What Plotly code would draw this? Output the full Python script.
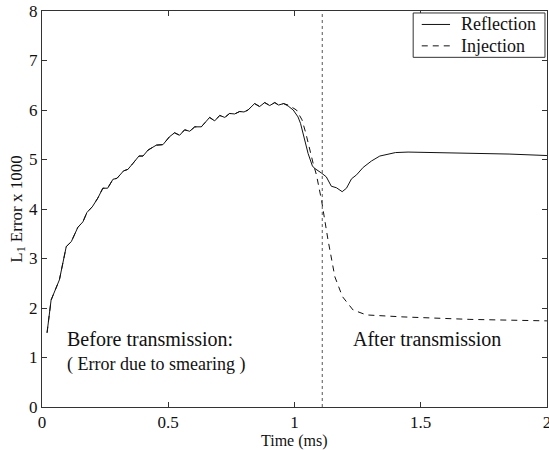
import plotly.graph_objects as go

# L1 error (x1000) versus time for the two boundary treatments
refl_t = [0.02, 0.036, 0.069, 0.096, 0.116, 0.142, 0.162, 0.178, 0.200, 0.221,
          0.241, 0.260, 0.281, 0.297, 0.323, 0.340, 0.360, 0.384, 0.400, 0.420,
          0.453, 0.479, 0.505, 0.525, 0.545, 0.565, 0.585, 0.605, 0.631, 0.664,
          0.684, 0.704, 0.724, 0.743, 0.763, 0.783, 0.800, 0.816, 0.842, 0.862,
          0.882, 0.902, 0.922, 0.937, 0.957, 0.975, 0.995, 1.014, 1.024, 1.034,
          1.054, 1.071, 1.080, 1.106, 1.126, 1.146, 1.166, 1.189, 1.206, 1.226,
          1.246, 1.272, 1.305, 1.338, 1.370, 1.400, 1.450, 1.560, 1.700, 1.850,
          2.000]
refl_v = [1.50, 2.16, 2.57, 3.24, 3.34, 3.63, 3.74, 3.93, 4.05, 4.22,
          4.42, 4.42, 4.60, 4.62, 4.77, 4.80, 4.92, 5.07, 5.07, 5.19,
          5.29, 5.30, 5.46, 5.54, 5.49, 5.60, 5.57, 5.66, 5.66, 5.85,
          5.78, 5.89, 5.85, 5.93, 5.92, 5.97, 5.96, 6.00, 6.13, 6.07,
          6.15, 6.09, 6.15, 6.10, 6.13, 6.08, 6.00, 5.86, 5.73, 5.53,
          5.12, 4.87, 4.82, 4.73, 4.65, 4.46, 4.43, 4.35, 4.42, 4.61,
          4.69, 4.84, 4.97, 5.07, 5.11, 5.14, 5.15, 5.14, 5.13, 5.11,
          5.08]

inj_t = [0.02, 0.036, 0.069, 0.096, 0.116, 0.142, 0.162, 0.178, 0.200, 0.221,
         0.241, 0.260, 0.281, 0.297, 0.323, 0.340, 0.360, 0.384, 0.400, 0.420,
         0.453, 0.479, 0.505, 0.525, 0.545, 0.565, 0.585, 0.605, 0.631, 0.664,
         0.684, 0.704, 0.724, 0.743, 0.763, 0.783, 0.800, 0.816, 0.842, 0.862,
         0.882, 0.902, 0.922, 0.937, 0.957, 0.975, 1.008, 1.030, 1.045, 1.060,
         1.074, 1.087, 1.107, 1.133, 1.160, 1.190, 1.232, 1.285, 1.430, 1.695,
         2.000]
inj_v = [1.50, 2.16, 2.57, 3.24, 3.34, 3.63, 3.74, 3.93, 4.05, 4.22,
         4.42, 4.42, 4.60, 4.62, 4.77, 4.80, 4.92, 5.07, 5.07, 5.19,
         5.29, 5.30, 5.46, 5.54, 5.49, 5.60, 5.57, 5.66, 5.66, 5.85,
         5.78, 5.89, 5.85, 5.93, 5.92, 5.97, 5.96, 6.00, 6.13, 6.07,
         6.15, 6.09, 6.15, 6.10, 6.13, 6.10, 6.00, 5.80, 5.53, 5.19,
         4.92, 4.69, 4.18, 3.37, 2.63, 2.23, 1.96, 1.86, 1.82, 1.77,
         1.74]

series_names = ["Reflection", "Injection"]
series_dash = ["solid", "6px,5px"]

transmission_time = 1.11
x_ticks = [0, 0.5, 1, 1.5, 2]
x_tick_text = ["0", "0.5", "1", "1.5", "2"]
y_ticks = [0, 1, 2, 3, 4, 5, 6, 7, 8]

serif = "Liberation Serif"
ink = "#111111"
frame = "#333333"

fig = go.Figure()
for name, xs, ys, dash in zip(series_names, [refl_t, inj_t], [refl_v, inj_v], series_dash):
    fig.add_trace(go.Scatter(x=xs, y=ys, mode="lines", name=name, showlegend=False,
                             line=dict(color=ink, width=1, dash=dash)))

# time at which the wave reaches the interface
fig.add_shape(type="line", x0=transmission_time, x1=transmission_time,
              y0=0, y1=8, xref="x", yref="y",
              line=dict(color="#555555", width=1, dash="dot"))

# boxed legend in the upper-right corner of the axes
lg_x0, lg_x1, lg_y0, lg_y1 = 0.735, 0.996, 0.883, 0.995
fig.add_shape(type="rect", xref="paper", yref="paper",
              x0=lg_x0, x1=lg_x1, y0=lg_y0, y1=lg_y1,
              fillcolor="white", line=dict(color=frame, width=1), layer="above")
for i, (name, dash) in enumerate(zip(series_names, series_dash)):
    ly = 0.966 - i * 0.054
    fig.add_shape(type="line", xref="paper", yref="paper",
                  x0=0.752, x1=0.808, y0=ly, y1=ly, layer="above",
                  line=dict(color=ink, width=1, dash=dash))
    fig.add_annotation(xref="paper", yref="paper", x=0.826, y=ly, text=name,
                       showarrow=False, xanchor="left", yanchor="middle",
                       font=dict(family=serif, size=18, color=ink))

fig.add_annotation(x=0.093, y=1.37, text="Before transmission:", showarrow=False,
                   xanchor="left", yanchor="middle",
                   font=dict(family=serif, size=20, color=ink))
fig.add_annotation(x=0.093, y=0.86, text="( Error due to smearing )", showarrow=False,
                   xanchor="left", yanchor="middle",
                   font=dict(family=serif, size=18, color=ink))
fig.add_annotation(x=1.225, y=1.37, text="After transmission", showarrow=False,
                   xanchor="left", yanchor="middle",
                   font=dict(family=serif, size=20, color=ink))

# x-axis title placed just below the tick labels
fig.add_annotation(xref="paper", yref="paper", x=0.5, y=0, yshift=-23,
                   text="Time (ms)", showarrow=False,
                   xanchor="center", yanchor="top",
                   font=dict(family=serif, size=16, color=ink))

axis_common = dict(showgrid=False, zeroline=False, showline=True, linecolor=frame,
                   linewidth=1, mirror="ticks", ticks="inside", ticklen=5,
                   tickcolor=frame, ticklabeloverflow="allow", automargin=False,
                   tickfont=dict(family=serif, size=17, color=ink))

fig.update_xaxes(range=[0, 2.0002], tickvals=x_ticks, ticktext=x_tick_text,
                 **axis_common)
fig.update_yaxes(range=[0, 8], tickvals=y_ticks,
                 title=dict(text="L<sub>1</sub> Error x 1000", standoff=2,
                            font=dict(family=serif, size=17, color=ink)),
                 **axis_common)

fig.update_layout(
    width=549, height=450,
    margin=dict(l=42, r=2, t=11, b=43),
    paper_bgcolor="white", plot_bgcolor="white",
    showlegend=False,
)

fig.write_html("out.html")
